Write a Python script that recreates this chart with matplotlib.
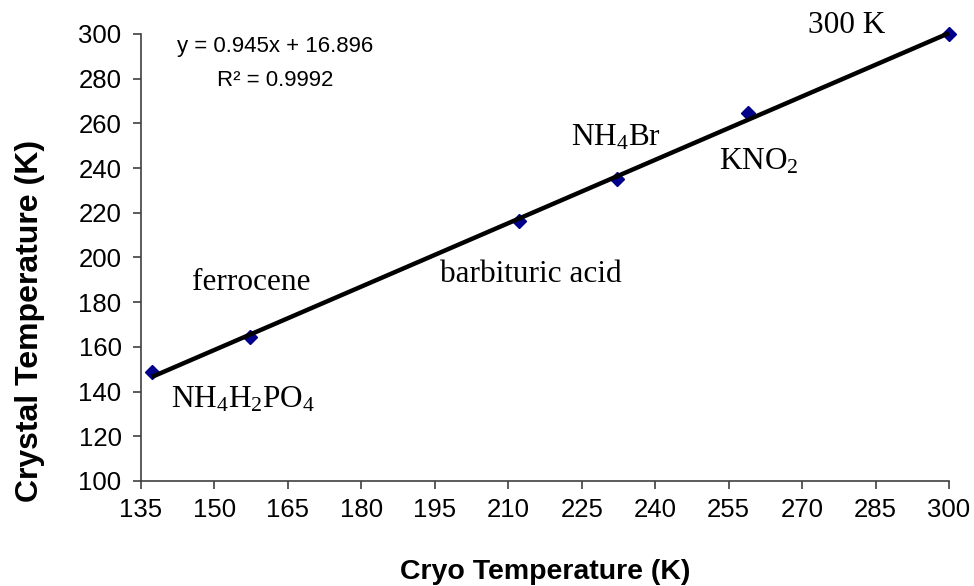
import matplotlib
matplotlib.use("Agg")
import matplotlib.pyplot as plt
import numpy as np

plt.rcParams["mathtext.fontset"] = "custom"
plt.rcParams["mathtext.rm"] = "Liberation Serif"
plt.rcParams["mathtext.it"] = "Liberation Serif:italic"

# Calibration points: cryostream setting vs. measured crystal temperature
cryo_temp = [137.2, 157.3, 212.2, 232.2, 259.0, 300.0]
crystal_temp = [148.8, 164.4, 216.3, 235.1, 264.6, 300.0]
labels = ["NH$_\\mathrm{4}$H$_\\mathrm{2}$PO$_\\mathrm{4}$", "ferrocene",
          "barbituric acid", "NH$_\\mathrm{4}$Br", "KNO$_\\mathrm{2}$", "300 K"]

# Linear trendline
slope, intercept = 0.945, 16.896
r_squared = 0.9992

x_ticks = list(range(135, 301, 15))
y_ticks = list(range(100, 301, 20))

fig = plt.figure(figsize=(9.74, 5.86), dpi=100)
ax = fig.add_axes([0.1448, 0.1792, 0.8295, 0.7628])

ax.plot(cryo_temp, crystal_temp, linestyle="none", marker="D",
        markersize=7.5, color="#00008B", zorder=2, clip_on=False)
x_fit = np.array([min(cryo_temp), max(cryo_temp)])
ax.plot(x_fit, slope * x_fit + intercept, color="black", linewidth=3.2,
        zorder=3, solid_capstyle="butt", clip_on=False)

ax.set_xlim(135, 300)
ax.set_ylim(100, 300)
ax.set_xticks(x_ticks)
ax.set_yticks(y_ticks)
for side in ("top", "right"):
    ax.spines[side].set_visible(False)
for side in ("left", "bottom"):
    ax.spines[side].set_color("#404040")
    ax.spines[side].set_linewidth(1.2)
ax.tick_params(direction="out", length=6, width=1.2, color="#404040",
               labelsize=18.5, pad=6)
ax.tick_params(axis="y", pad=8)
for lab in ax.get_xticklabels() + ax.get_yticklabels():
    lab.set_fontfamily("Liberation Sans")

ax.set_xlabel("Cryo Temperature (K)", fontsize=20.5, fontweight="bold",
              fontfamily="Liberation Sans", labelpad=27)
ax.set_ylabel("Crystal Temperature (K)", fontsize=23, fontweight="bold",
              fontfamily="Liberation Sans")
ax.yaxis.set_label_coords(-0.119, 0.358)

# Sample annotations
label_pos = [(141.1, 136.2), (145.4, 188.6), (196.0, 192.6),
             (222.8, 253.5), (253.0, 242.7), (271.2, 304.0)]
for text, (lx, ly) in zip(labels, label_pos):
    ax.text(lx, ly, text, fontsize=22.5, fontfamily="Liberation Serif",
            ha="left", va="center", clip_on=False)

ax.text(162.4, 294.2, f"y = {slope}x + {intercept}", fontsize=16,
        fontfamily="Liberation Sans", ha="center", va="center")
ax.text(162.4, 279.0, f"R² = {r_squared}", fontsize=16,
        fontfamily="Liberation Sans", ha="center", va="center")

fig.savefig("out.png", dpi=100)
